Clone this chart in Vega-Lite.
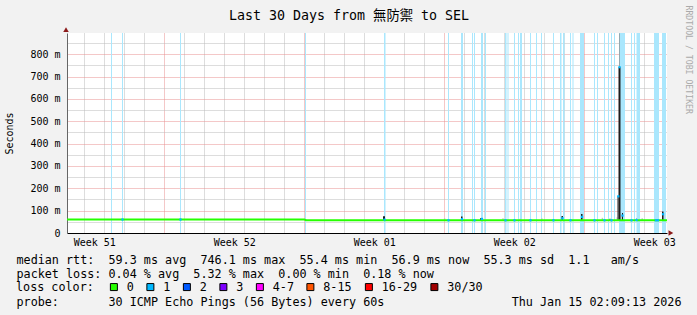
{
  "$schema": "https://vega.github.io/schema/vega-lite/v6.json",
  "width": 600,
  "height": 200,
  "autosize": {"type": "none"},
  "padding": {"left": 67, "top": 33, "right": 30, "bottom": 82},
  "background": "#f2f2f2",
  "config": {"view": {"fill": "#ffffff", "stroke": null}, "font": "DejaVu Sans Mono"},
  "datasets": {
    "bands": [
      {"d": 1.335, "e": 1.385}, {"d": 1.885, "e": 1.935}, {"d": 4.785, "e": 4.835}, {"d": 11.035, "e": 11.085},
      {"d": 14.985, "e": 15.06}, {"d": 18.185, "e": 18.235}, {"d": 18.835, "e": 18.935}, {"d": 19.385, "e": 19.435},
      {"d": 19.485, "e": 19.535}, {"d": 19.835, "e": 19.935}, {"d": 20.035, "e": 20.085}, {"d": 21.035, "e": 21.11},
      {"d": 21.16, "e": 21.21}, {"d": 21.485, "e": 21.535}, {"d": 21.685, "e": 21.735}, {"d": 21.785, "e": 21.885},
      {"d": 22.285, "e": 22.335}, {"d": 22.585, "e": 22.635}, {"d": 22.835, "e": 22.885}, {"d": 23.435, "e": 23.485},
      {"d": 23.785, "e": 23.86}, {"d": 23.935, "e": 24.01}, {"d": 24.285, "e": 24.335}, {"d": 24.41, "e": 24.46},
      {"d": 24.785, "e": 24.985}, {"d": 25.485, "e": 25.535}, {"d": 25.635, "e": 25.685}, {"d": 25.985, "e": 26.035},
      {"d": 26.185, "e": 26.235}, {"d": 26.335, "e": 26.385}, {"d": 26.485, "e": 26.535}, {"d": 26.735, "e": 27.035},
      {"d": 27.335, "e": 27.385}, {"d": 27.485, "e": 27.535}, {"d": 27.61, "e": 27.785}, {"d": 28.485, "e": 28.735},
      {"d": 28.885, "e": 29.085}
    ],
    "smokeLight": [
      {"d": 17.98, "e": 18.05, "lo": 57, "hi": 66}, {"d": 20.9, "e": 20.97, "lo": 57, "hi": 66},
      {"d": 21.76, "e": 21.83, "lo": 57, "hi": 64}, {"d": 22.84, "e": 22.91, "lo": 57, "hi": 66},
      {"d": 25.87, "e": 25.94, "lo": 57, "hi": 68}, {"d": 27.86, "e": 27.93, "lo": 57, "hi": 66},
      {"d": 26.61, "e": 26.66, "lo": 57, "hi": 70}, {"d": 26.81, "e": 26.88, "lo": 57, "hi": 80},
      {"d": 24.91, "e": 24.96, "lo": 57, "hi": 78}, {"d": 28.96, "e": 29.0, "lo": 57, "hi": 88}
    ],
    "smokeDark": [
      {"d": 14.935, "e": 15.035, "lo": 57, "hi": 75}, {"d": 18.835, "e": 18.91, "lo": 57, "hi": 74},
      {"d": 19.785, "e": 19.835, "lo": 57, "hi": 66}, {"d": 23.86, "e": 23.935, "lo": 57, "hi": 76},
      {"d": 24.835, "e": 24.91, "lo": 57, "hi": 85}, {"d": 26.26, "e": 26.31, "lo": 57, "hi": 64},
      {"d": 26.66, "e": 26.71, "lo": 57, "hi": 164}, {"d": 26.71, "e": 26.81, "lo": 57, "hi": 742},
      {"d": 26.885, "e": 26.935, "lo": 57, "hi": 90}, {"d": 27.585, "e": 27.635, "lo": 57, "hi": 64},
      {"d": 28.885, "e": 28.96, "lo": 57, "hi": 96}
    ],
    "smokeMid": [
      {"d": 26.745, "e": 26.775, "lo": 742, "hi": 894}
    ],
    "median": [
      {"d": -0.865, "ms": 60.2}, {"d": 11.0, "ms": 60.2}, {"d": 11.1, "ms": 57}, {"d": 29.135, "ms": 57}
    ],
    "lossPts": [
      {"d": 1.91, "ms": 60.2, "loss": "1"}, {"d": 4.81, "ms": 60.2, "loss": "1"},
      {"d": 15.01, "ms": 60, "loss": "1"}, {"d": 18.885, "ms": 62, "loss": "1"},
      {"d": 19.885, "ms": 63, "loss": "1"}, {"d": 23.91, "ms": 66, "loss": "1"},
      {"d": 24.885, "ms": 72, "loss": "1"}, {"d": 26.7, "ms": 164, "loss": "1"},
      {"d": 26.76, "ms": 742, "loss": "1"}, {"d": 26.91, "ms": 78, "loss": "1"},
      {"d": 27.61, "ms": 58, "loss": "1"}, {"d": 28.935, "ms": 84, "loss": "1"},
      {"d": 18.21, "ms": 57, "loss": "1"}, {"d": 19.51, "ms": 57, "loss": "1"},
      {"d": 21.06, "ms": 57, "loss": "1"}, {"d": 21.51, "ms": 57, "loss": "1"},
      {"d": 22.31, "ms": 57, "loss": "1"}, {"d": 23.46, "ms": 57, "loss": "1"},
      {"d": 24.31, "ms": 57, "loss": "1"}, {"d": 25.51, "ms": 57, "loss": "1"},
      {"d": 26.01, "ms": 57, "loss": "1"}, {"d": 26.36, "ms": 57, "loss": "1"},
      {"d": 27.36, "ms": 57, "loss": "1"}, {"d": 28.585, "ms": 57, "loss": "1"},
      {"d": 28.685, "ms": 57, "loss": "1"}
    ]
  },
  "layer": [
    {
      "data": {"name": "bands"},
      "mark": {"type": "rect", "color": "#aae7fd"},
      "encoding": {
        "x": {
          "field": "d", "type": "quantitative",
          "scale": {"domain": [-0.865, 29.135], "nice": false, "zero": false},
          "axis": {
            "orient": "bottom",
            "values": [0.5, 7.5, 14.5, 21.5, 28.5],
            "labelExpr": "datum.value < 1 ? 'Week 51' : datum.value < 8 ? 'Week 52' : datum.value < 15 ? 'Week 01' : datum.value < 22 ? 'Week 02' : 'Week 03'",
            "grid": false,
            "ticks": false,
            "domain": true,
            "domainColor": "#000000",
            "labelFont": "DejaVu Sans Mono", "labelFontSize": 10, "labelColor": "#000000", "labelPadding": 4,
            "labelOverlap": false, "labelBound": false, "labelFlush": false,
            "title": [
              "median\u00a0rtt:\u00a0\u00a059.3\u00a0ms\u00a0avg\u00a0\u00a0746.1\u00a0ms\u00a0max\u00a0\u00a055.4\u00a0ms\u00a0min\u00a0\u00a056.9\u00a0ms\u00a0now\u00a0\u00a055.3\u00a0ms\u00a0sd\u00a0\u00a01.1\u00a0\u00a0\u00a0am/s",
              "packet\u00a0loss:\u00a00.04\u00a0%\u00a0avg\u00a0\u00a05.32\u00a0%\u00a0max\u00a0\u00a00.00\u00a0%\u00a0min\u00a0\u00a00.18\u00a0%\u00a0now"
            ],
            "titleFont": "DejaVu Sans Mono", "titleFontSize": 11.75, "titleFontWeight": "normal", "titleColor": "#000000",
            "titleAnchor": "start", "titleAlign": "left", "titleBaseline": "top", "titleLineHeight": 14,
            "titleX": -51, "titleY": 21
          }
        },
        "x2": {"field": "e"}
      }
    },
    {
      "data": {"name": "smokeLight"},
      "mark": {"type": "rect", "color": "#c4c4c4"},
      "encoding": {
        "x": {
          "field": "d", "type": "quantitative",
          "axis": {
            "orient": "bottom",
            "values": [0,1,2,3,4,5,6,7,8,9,10,11,12,13,14,15,16,17,18,19,20,21,22,23,24,25,26,27,28,29],
            "labels": false, "ticks": false, "domain": false,
            "grid": true,
            "gridColor": {"condition": {"test": "datum.value % 7 == 4", "value": "#e89090"}, "value": "#bbbbbb"},
            "gridDash": [1, 1],
            "title": "probe:\u00a0\u00a0\u00a0\u00a0\u00a0\u00a0\u00a030\u00a0ICMP\u00a0Echo\u00a0Pings\u00a0(56\u00a0Bytes)\u00a0every\u00a060s\u00a0\u00a0\u00a0\u00a0\u00a0\u00a0\u00a0\u00a0\u00a0\u00a0\u00a0\u00a0\u00a0\u00a0\u00a0\u00a0\u00a0\u00a0Thu\u00a0Jan\u00a015\u00a002:09:13\u00a02026",
            "titleFont": "DejaVu Sans Mono", "titleFontSize": 11.75, "titleFontWeight": "normal", "titleColor": "#000000",
            "titleAnchor": "start", "titleAlign": "left", "titleBaseline": "top",
            "titleX": -51, "titleY": 63
          }
        },
        "x2": {"field": "e"},
        "y": {"field": "lo", "type": "quantitative", "axis": null},
        "y2": {"field": "hi"}
      }
    },
    {
      "data": {"name": "smokeMid"},
      "mark": {"type": "rect", "color": "#808080"},
      "encoding": {
        "x": {
          "field": "d", "type": "quantitative",
          "axis": {
            "orient": "top", "labels": false, "ticks": false, "domain": false, "grid": false,
            "title": "Last 30 Days from 無防禦 to SEL",
            "titleFont": "DejaVu Sans Mono, Noto Sans CJK TC", "titleFontSize": 13.3, "titleFontWeight": "normal", "titleColor": "#000000",
            "titleAlign": "center", "titleBaseline": "alphabetic", "titleX": 281.5, "titleY": -14
          }
        },
        "x2": {"field": "e"},
        "y": {"field": "lo", "type": "quantitative", "axis": null},
        "y2": {"field": "hi"}
      }
    },
    {
      "data": {"name": "smokeDark"},
      "mark": {"type": "rect", "color": "#1e1e1e"},
      "encoding": {
        "x": {"field": "d", "type": "quantitative", "axis": null},
        "x2": {"field": "e"},
        "y": {
          "field": "lo", "type": "quantitative",
          "axis": {
            "orient": "right", "labels": false, "ticks": false, "domain": false, "grid": false,
            "title": "RRDTOOL / TOBI OETIKER", "titleAngle": 90, "titleColor": "#aaaaaa",
            "titleFont": "DejaVu Sans Mono", "titleFontSize": 8.2, "titleFontWeight": "normal",
            "titleAlign": "left", "titleBaseline": "middle", "titleX": 20, "titleY": -28
          }
        },
        "y2": {"field": "hi"}
      }
    },
    {
      "data": {"name": "median"},
      "mark": {"type": "line", "color": "#26ff00", "strokeWidth": 2},
      "encoding": {
        "x": {"field": "d", "type": "quantitative", "axis": null},
        "y": {
          "field": "ms", "type": "quantitative",
          "scale": {"domain": [0, 895], "nice": false, "zero": true},
          "axis": {
            "values": [0,50,100,150,200,250,300,350,400,450,500,550,600,650,700,750,800,850],
            "labelExpr": "datum.value==0?'0\u00a0\u00a0':datum.value%100==0?datum.value+'\u00a0m':''",
            "grid": true,
            "gridColor": {"condition": {"test": "datum.value%100==0", "value": "#e89090"}, "value": "#bbbbbb"},
            "gridOpacity": {"condition": {"test": "datum.value==0", "value": 0}, "value": 1},
            "gridDash": [1, 1],
            "ticks": false,
            "domainColor": "#666666",
            "labelFont": "DejaVu Sans Mono", "labelFontSize": 10, "labelColor": "#000000", "labelPadding": 7,
            "labelOverlap": false,
            "title": "Seconds", "titleFont": "DejaVu Sans Mono", "titleFontSize": 10, "titleFontWeight": "normal",
            "titleColor": "#000000", "titlePadding": 15
          }
        }
      }
    },
    {
      "data": {"name": "lossPts"},
      "mark": {"type": "square", "size": 5, "opacity": 1},
      "encoding": {
        "x": {"field": "d", "type": "quantitative", "axis": null},
        "y": {"field": "ms", "type": "quantitative", "axis": null},
        "color": {
          "field": "loss", "type": "nominal",
          "scale": {
            "domain": ["0", "1", "2", "3", "4-7", "8-15", "16-29", "30/30"],
            "range": ["#26ff00", "#00b8ff", "#0059ff", "#7e00ff", "#ff00ff", "#ff5500", "#ff0000", "#a10000"]
          },
          "legend": {
            "orient": "none", "legendX": -51, "legendY": 248, "direction": "horizontal",
            "title": "loss color:", "titleOrient": "left", "titleFont": "DejaVu Sans Mono", "titleFontSize": 11.75,
            "titleFontWeight": "normal", "titleColor": "#000000", "titlePadding": 14, "titleBaseline": "middle",
            "symbolType": "square", "symbolSize": 49, "symbolStrokeColor": "#000000", "symbolStrokeWidth": 1, "symbolOpacity": 1,
            "labelFont": "DejaVu Sans Mono", "labelFontSize": 11.75, "labelColor": "#000000", "labelOffset": 7,
            "columnPadding": 10.5
          }
        }
      }
    },
    {
      "data": {"values": [{"d": 29.33, "ms": 0}]},
      "mark": {"type": "point", "shape": "triangle-right", "filled": true, "size": 30, "color": "#8b1a1a", "opacity": 1},
      "encoding": {
        "x": {"field": "d", "type": "quantitative", "axis": null},
        "y": {"field": "ms", "type": "quantitative", "axis": null}
      }
    },
    {
      "data": {"values": [{"d": -0.915, "ms": 910}]},
      "mark": {"type": "point", "shape": "triangle-up", "filled": true, "size": 30, "color": "#8b1a1a", "opacity": 1},
      "encoding": {
        "x": {"field": "d", "type": "quantitative", "axis": null},
        "y": {"field": "ms", "type": "quantitative", "axis": null}
      }
    }
  ],
  "resolve": {"axis": {"x": "independent", "y": "independent"}}
}
